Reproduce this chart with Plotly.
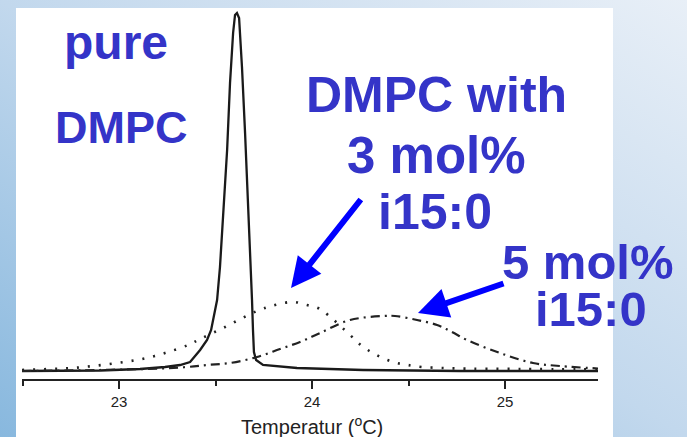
import base64
import plotly.graph_objects as go

# ---------------- data ----------------
# pure DMPC (solid)
pure_T = [22.497, 22.694, 22.902, 23.109, 23.238, 23.316, 23.368, 23.420, 23.456, 23.477,
          23.508, 23.523, 23.539, 23.560, 23.575, 23.591, 23.601, 23.611, 23.622, 23.637,
          23.653, 23.668, 23.684, 23.689, 23.694, 23.699, 23.710, 23.746, 23.922, 24.264,
          24.767, 25.482]
pure_cp = [0.28, 0.28, 0.42, 0.84, 1.39, 1.95, 2.79, 6.13, 8.91, 11.70,
           20.06, 29.25, 43.18, 61.84, 80.50, 94.43, 99.44, 100.0, 98.61, 84.96,
           66.57, 47.91, 29.25, 20.06, 11.70, 5.57, 3.34, 1.95, 1.11, 0.56,
           0.28, 0.28]

# DMPC with 3 mol% i15:0 (dotted)
mol3_T = [22.497, 22.642, 22.756, 22.865, 22.990, 23.119, 23.238, 23.358, 23.420, 23.539,
          23.715, 23.808, 23.902, 23.974, 24.031, 24.083, 24.197, 24.259, 24.316, 24.378,
          24.440, 24.497, 24.570, 24.679, 24.767, 25.078, 25.482]
mol3_cp = [0.56, 0.84, 1.11, 1.67, 2.51, 3.62, 5.29, 7.52, 9.19, 12.26,
           16.99, 18.66, 19.50, 18.66, 17.83, 15.88, 10.31, 7.24, 5.29, 3.62,
           2.51, 1.95, 1.39, 1.11, 0.97, 0.84, 0.70]

# DMPC with 5 mol% i15:0 (dash-dot)
mol5_T = [22.497, 22.902, 23.212, 23.352, 23.456, 23.575, 23.715, 23.834, 23.938, 24.041,
          24.197, 24.368, 24.430, 24.544, 24.648, 24.725, 24.803, 24.974, 25.145, 25.285,
          25.482]
mol5_cp = [0.28, 0.56, 0.97, 1.39, 1.95, 2.51, 4.18, 6.41, 8.36, 10.86,
           14.48, 15.60, 15.60, 14.48, 13.09, 11.14, 8.91, 5.29, 2.51, 1.67,
           0.97]

x_ticks = [23, 24, 25]
x_minor = [22.5, 23.5, 24.5]
x_range = [22.497, 25.482]
y_range = [-1.95, 101.39]

# ---------------- layout helpers ----------------
W, H = 687, 437
PL, PR, PT, PB = 22, 598, 8, 379


def px_x(px):
    return (px - PL) / (PR - PL)


def px_y(py):
    return (PB - py) / (PB - PT)


FONT = "Liberation Sans, Arial, sans-serif"
TXT = "#3434c8"
ARROW = "#0000ff"

fig = go.Figure()
fig.add_trace(go.Scatter(x=pure_T, y=pure_cp, mode="lines",
                         line=dict(color="#1a1a1a", width=2.3)))
fig.add_trace(go.Scatter(x=mol3_T, y=mol3_cp, mode="lines", line_shape="spline",
                         line=dict(color="#222222", width=2.6, dash="2px,9px")))
fig.add_trace(go.Scatter(x=mol5_T, y=mol5_cp, mode="lines", line_shape="spline",
                         line=dict(color="#222222", width=2.2, dash="9px,5px,2px,5px")))

svg = ('<svg xmlns="http://www.w3.org/2000/svg" width="687" height="437" '
       'preserveAspectRatio="none"><defs>'
       '<linearGradient id="g" x1="0" y1="1" x2="1" y2="0">'
       '<stop offset="0" stop-color="#88b8de"/>'
       '<stop offset="0.5" stop-color="#c2d8ed"/>'
       '<stop offset="1" stop-color="#e8eff7"/>'
       '</linearGradient></defs>'
       '<rect width="687" height="437" fill="url(#g)"/></svg>')
src = "data:image/svg+xml;base64," + base64.b64encode(svg.encode()).decode()

annotations = []


def text(t, cx, cy, size):
    annotations.append(dict(text="<b>" + t + "</b>", xref="paper", yref="paper",
                            x=px_x(cx), y=px_y(cy), xanchor="center", yanchor="middle",
                            showarrow=False, borderpad=0,
                            font=dict(family=FONT, size=size, color=TXT)))


text("pure", 116, 43, 48)
text("DMPC", 121, 127, 45)
text("DMPC with", 436, 95, 50)
text("3 mol%", 436, 156, 51)
text("i15:0", 435, 212, 50)
text("5 mol%", 588, 262, 49)
text("i15:0", 591, 309, 49)


def arrow(tip, tail):
    annotations.append(dict(text="", xref="paper", yref="paper",
                            x=px_x(tip[0]), y=px_y(tip[1]),
                            ax=tail[0] - tip[0], ay=tail[1] - tip[1],
                            showarrow=True, arrowhead=2, arrowsize=1.0,
                            arrowwidth=6, arrowcolor=ARROW, standoff=0))


arrow((291, 288), (362, 198))
arrow((418, 313), (505, 283))

annotations.append(dict(text="Temperatur (<sup>o</sup>C)", xref="paper", yref="paper",
                        x=px_x(312), y=px_y(425), xanchor="center", yanchor="middle",
                        showarrow=False, borderpad=0,
                        font=dict(family=FONT, size=20, color="#222222")))

fig.update_layout(
    width=W, height=H,
    margin=dict(l=PL, r=W - PR, t=PT, b=H - PB, pad=0),
    paper_bgcolor="#c2d8ed",
    plot_bgcolor="rgba(0,0,0,0)",
    showlegend=False,
    images=[dict(source=src, xref="paper", yref="paper",
                 x=px_x(0), y=px_y(0), sizex=px_x(W) - px_x(0), sizey=px_y(0) - px_y(H),
                 xanchor="left", yanchor="top", sizing="stretch", layer="below")],
    shapes=[dict(type="rect", xref="paper", yref="paper",
                 x0=px_x(16), x1=px_x(613), y0=px_y(H), y1=px_y(8),
                 fillcolor="white", line=dict(width=0), layer="below")],
    annotations=annotations,
    xaxis=dict(range=x_range, showgrid=False, zeroline=False,
               showline=True, linecolor="#222222", linewidth=1.5,
               ticks="outside", ticklen=8, tickwidth=1.5, tickcolor="#222222",
               tickvals=x_ticks, ticktext=[str(v) for v in x_ticks],
               tickfont=dict(family=FONT, size=15, color="#222222"),
               minor=dict(tickvals=x_minor, ticks="outside", ticklen=5,
                          tickwidth=1.5, tickcolor="#222222")),
    yaxis=dict(range=y_range, visible=False, showgrid=False, zeroline=False),
)

fig.write_html("out.html")
